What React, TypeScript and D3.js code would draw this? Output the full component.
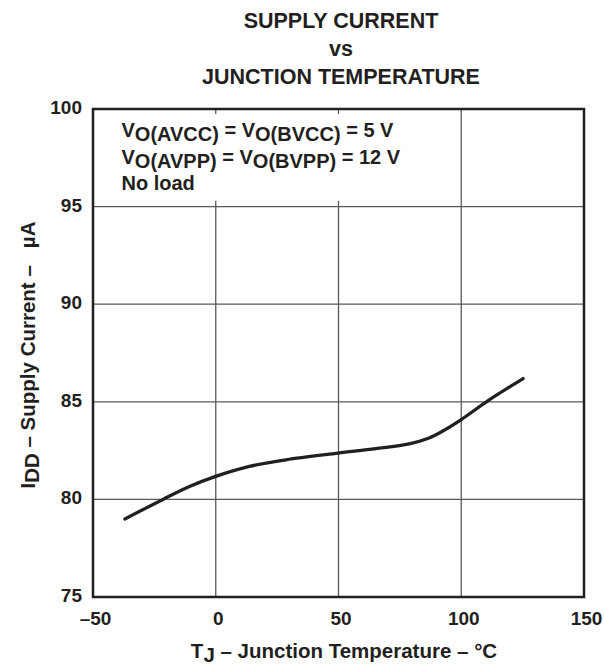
import { useEffect, useRef } from "react";
import * as d3 from "d3";

// curve: junction temp (°C) vs supply current (µA)
const tempC = [-37, -21.5, -10.7, 0, 13.7, 28.6, 49.8, 65.2, 78.8, 86.9, 92.3, 100, 111.4, 125.2];
const currentUA = [79.0, 80.0, 80.66, 81.18, 81.69, 82.03, 82.37, 82.6, 82.85, 83.15, 83.49, 84.09, 85.1, 86.19];

const xTicks = [-50, 0, 50, 100, 150];
const yTicks = [75, 80, 85, 90, 95, 100];
const titleLines = ["SUPPLY CURRENT", "vs", "JUNCTION TEMPERATURE"];

const W = 604;
const H = 665;
const left = 93;
const right = 584;
const top = 109;
const bottom = 597;
const ink = "#231f20";
const font = "'Liberation Sans', Arial, Helvetica, sans-serif";

export default function App() {
  const ref = useRef(null);

  useEffect(() => {
    const svg = d3.select(ref.current);
    svg.selectAll("*").remove();

    const x = d3.scaleLinear().domain([-50, 150]).range([left, right]);
    const y = d3.scaleLinear().domain([75, 100]).range([bottom, top]);

    const g = svg.append("g").attr("font-family", font).attr("font-weight", "bold").attr("fill", ink);

    // grid
    g.append("g")
      .selectAll("line")
      .data(xTicks.slice(1, -1))
      .join("line")
      .attr("x1", d => x(d)).attr("x2", d => x(d))
      .attr("y1", top).attr("y2", bottom)
      .attr("stroke", "#58595b").attr("stroke-width", 1.3);
    g.append("g")
      .selectAll("line")
      .data(yTicks.slice(1, -1))
      .join("line")
      .attr("x1", left).attr("x2", right)
      .attr("y1", d => y(d)).attr("y2", d => y(d))
      .attr("stroke", "#58595b").attr("stroke-width", 1.3);

    // white box behind the conditions text
    g.append("rect")
      .attr("x", left + 2).attr("y", top + 5)
      .attr("width", x(96) - left - 2).attr("height", y(95.3) - top - 5)
      .attr("fill", "#fff");

    // frame
    g.append("rect")
      .attr("x", left).attr("y", top)
      .attr("width", right - left).attr("height", bottom - top)
      .attr("fill", "none").attr("stroke", ink).attr("stroke-width", 2.5);

    // curve
    const pts = tempC.map((t, i) => [t, currentUA[i]]);
    g.append("path")
      .datum(pts)
      .attr("fill", "none").attr("stroke", ink).attr("stroke-width", 3.3)
      .attr("stroke-linecap", "round")
      .attr("d", d3.line().x(d => x(d[0])).y(d => y(d[1])).curve(d3.curveCatmullRom.alpha(0.5)));

    // tick labels
    g.append("g")
      .selectAll("text")
      .data(xTicks)
      .join("text")
      .attr("x", d => x(d) + 2.5).attr("y", 625)
      .attr("text-anchor", "middle").attr("font-size", 19)
      .text(d => (d < 0 ? "\u2013" + Math.abs(d) : String(d)));
    g.append("g")
      .selectAll("text")
      .data(yTicks)
      .join("text")
      .attr("x", left - 11).attr("y", d => y(d) + 5)
      .attr("text-anchor", "end").attr("font-size", 19)
      .text(d => String(d));

    // title
    g.append("g")
      .selectAll("text")
      .data(titleLines)
      .join("text")
      .attr("x", 341).attr("y", (d, i) => [27.5, 56, 83.5][i])
      .attr("text-anchor", "middle").attr("font-size", 21.5)
      .text(d => d);

    // conditions
    const cond = g.append("g").attr("font-size", 20);
    const cx = 121.5;
    const l1 = cond.append("text").attr("x", cx).attr("y", 137);
    l1.append("tspan").text("V");
    l1.append("tspan").attr("dy", 4).text("O(AVCC)");
    l1.append("tspan").attr("dy", -4).text(" = V");
    l1.append("tspan").attr("dy", 4).text("O(BVCC)");
    l1.append("tspan").attr("dy", -4).text(" = 5 V");
    const l2 = cond.append("text").attr("x", cx).attr("y", 164);
    l2.append("tspan").text("V");
    l2.append("tspan").attr("dy", 4).text("O(AVPP)");
    l2.append("tspan").attr("dy", -4).text(" = V");
    l2.append("tspan").attr("dy", 4).text("O(BVPP)");
    l2.append("tspan").attr("dy", -4).text(" = 12 V");
    cond.append("text").attr("x", cx).attr("y", 190).text("No load");

    // axis titles
    const xl = g.append("text").attr("x", 344).attr("y", 658).attr("text-anchor", "middle").attr("font-size", 20.5);
    xl.append("tspan").text("T");
    xl.append("tspan").attr("dy", 4).text("J");
    xl.append("tspan").attr("dy", -4).text(" \u2013 Junction Temperature \u2013 \u00b0C");

    const yl = g.append("text")
      .attr("transform", "translate(35,355) rotate(-90)")
      .attr("text-anchor", "middle").attr("font-size", 20.5);
    yl.append("tspan").text("I");
    yl.append("tspan").attr("dy", 4).text("DD");
    yl.append("tspan").attr("dy", -4).text(" \u2013 Supply Current \u2013\u00a0\u00a0 \u00b5A");
  }, []);

  return <svg ref={ref} width={W} height={H} style={{ position: "absolute", left: 0, top: 0, background: "#fff" }} />;
}
